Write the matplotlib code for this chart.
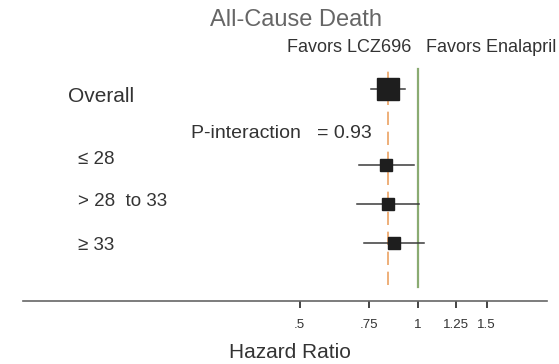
import matplotlib
matplotlib.use("Agg")
import matplotlib.pyplot as plt
import numpy as np

plt.rcParams['font.family'] = ['Liberation Sans', 'DejaVu Sans']

# subgroup estimates (hazard ratio with 95% CI)
labels = ["Overall", "\u2264 28", "> 28  to 33", "\u2265 33"]
hr = [0.84, 0.83, 0.84, 0.87]
lower = [0.76, 0.71, 0.70, 0.73]
upper = [0.93, 0.98, 1.01, 1.04]
marker_sizes = [15.5, 9.2, 9.0, 8.8]
p_interaction = 0.93

ticks = [0.5, 0.75, 1, 1.25, 1.5]
tick_labels = [".5", ".75", "1", "1.25", "1.5"]

W, H = 559, 364
fig = plt.figure(figsize=(W / 100, H / 100), dpi=100)


def fx(px):
    return px / W


def fy(py):
    return 1 - py / H


# axes spans the whole upper part, bottom edge is the HR axis line
ax = fig.add_axes([fx(23), fy(300.7), fx(547) - fx(23), fy(0) - fy(300.7)])
ax.set_xscale("log")
ax.set_xlim(0.0987, 2.136)
ax.set_ylim(5.43, -2.28)

rows = [0, 1.95, 2.95, 3.95]

ax.axvline(1, ymin=0.045, ymax=0.77, color="#8aab72", lw=1.6)
ax.axvline(hr[0], ymin=0.052, ymax=0.775, color="#eba262", lw=1.2,
           dashes=(8, 4))

for y, h, lo, hi, ms in zip(rows, hr, lower, upper, marker_sizes):
    ax.plot([lo, hi], [y, y], color="#3a3a3a", lw=1.1, zorder=3)
    ax.plot(h, y, marker="s", ms=ms, color="#1e1e1e", mec="#1e1e1e",
            zorder=4)

ax.set_xticks(ticks)
ax.set_xticklabels(tick_labels)
ax.xaxis.set_minor_locator(matplotlib.ticker.NullLocator())
ax.tick_params(axis="x", direction="out", length=5, width=1.4,
               color="#444444", labelsize=9.6, labelcolor="#333333", pad=8.5)
ax.set_yticks([])
for s in ["top", "left", "right"]:
    ax.spines[s].set_visible(False)
ax.spines["bottom"].set_color("#666666")
ax.spines["bottom"].set_linewidth(1.2)
ax.patch.set_visible(False)

# row labels
label_px = [(68, 96, 15), (78, 159, 13.5), (78, 202, 13.5), (78, 245, 13.5)]
for text, (x, y, size) in zip(labels, label_px):
    fig.text(fx(x), fy(y), text, fontsize=size, color="#333333",
             ha="left", va="center")

fig.text(fx(191), fy(134), "P-interaction   = %.2f" % p_interaction,
         fontsize=14, color="#333333", ha="left", va="center")

fig.text(fx(295.5), fy(20), "All-Cause Death", fontsize=17,
         color="#666666", ha="center", va="center")
fig.text(fx(411.5), fy(48), "Favors LCZ696", fontsize=13,
         color="#333333", ha="right", va="center")
fig.text(fx(426), fy(48), "Favors Enalapril", fontsize=13,
         color="#333333", ha="left", va="center")
fig.text(fx(290), fy(352), "Hazard Ratio", fontsize=15,
         color="#333333", ha="center", va="center")

fig.savefig("out.png", dpi=100)
